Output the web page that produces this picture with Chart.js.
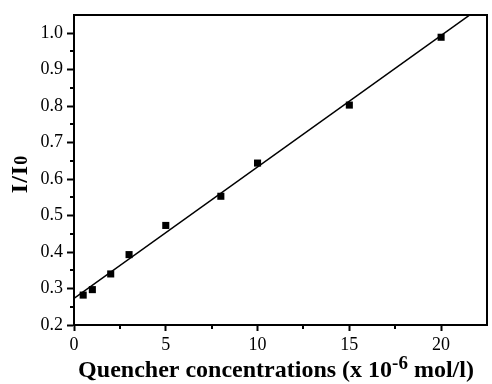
<!DOCTYPE html>
<html>
<head>
<meta charset="utf-8">
<script src="https://cdn.jsdelivr.net/npm/chart.js@4"></script>
<style>
  body { margin: 0; background: #fff; }
  #wrap { width: 492px; height: 384px; }
</style>
</head>
<body>
<div id="wrap"><canvas id="quenchChart" width="492" height="384"></canvas></div>
<script>
// DATA
const concX = [0.5, 1, 2, 3, 5, 8, 10, 15, 20];
const ratioY = [0.282, 0.297, 0.340, 0.393, 0.473, 0.553, 0.644, 0.803, 0.989];

// fitted line at both ends
const fitX = [0, 22.5];
const fitY = [0.273, 1.084];

const xTicks = [0, 5, 10, 15, 20];
const xMinor = [2.5, 7.5, 12.5, 17.5];
const yTicks = [0.2, 0.3, 0.4, 0.5, 0.6, 0.7, 0.8, 0.9, 1.0];
const yMinor = [0.25, 0.35, 0.45, 0.55, 0.65, 0.75, 0.85, 0.95];

const FONT = "'Liberation Serif', 'Times New Roman', serif";

// frame, minor ticks and axis titles
const decorPlugin = {
  id: "decor",
  afterDraw(chart) {
    const ctx = chart.ctx;
    const a = chart.chartArea;
    const xs = chart.scales.x, ys = chart.scales.y;

    ctx.save();
    ctx.strokeStyle = "#000";
    ctx.lineWidth = 2;
    ctx.strokeRect(a.left, a.top, a.right - a.left, a.bottom - a.top);

    ctx.beginPath();
    yMinor.forEach(v => {
      const py = Math.round(ys.getPixelForValue(v));
      ctx.moveTo(a.left - 4, py);
      ctx.lineTo(a.left, py);
    });
    xMinor.forEach(v => {
      const px = Math.round(xs.getPixelForValue(v));
      ctx.moveTo(px, a.bottom);
      ctx.lineTo(px, a.bottom + 4);
    });
    ctx.stroke();

    ctx.fillStyle = "#000";
    ctx.textBaseline = "alphabetic";

    // x title with superscript
    const big = "bold 24px " + FONT, small = "bold 19px " + FONT;
    const p1 = "Quencher concentrations (x 10", p2 = "-6", p3 = " mol/l)";
    ctx.font = big;
    const w1 = ctx.measureText(p1).width, w3 = ctx.measureText(p3).width;
    ctx.font = small;
    const w2 = ctx.measureText(p2).width;
    let x = 276 - (w1 + w2 + w3) / 2;
    const base = 377;
    ctx.textAlign = "left";
    ctx.font = big; ctx.fillText(p1, x, base); x += w1;
    ctx.font = small; ctx.fillText(p2, x, base - 8); x += w2;
    ctx.font = big; ctx.fillText(p3, x, base);

    // y title
    ctx.translate(27, 174);
    ctx.rotate(-Math.PI / 2);
    ctx.letterSpacing = "1px";
    const q1 = "I/I", q2 = "0";
    ctx.font = "bold 24px " + FONT;
    const v1 = ctx.measureText(q1).width;
    ctx.font = "bold 18px " + FONT;
    const v2 = ctx.measureText(q2).width;
    let t = -(v1 + v2) / 2;
    ctx.font = "bold 24px " + FONT; ctx.fillText(q1, t, 0); t += v1;
    ctx.font = "bold 18px " + FONT; ctx.fillText(q2, t, 0);
    ctx.restore();
  }
};

new Chart(document.getElementById("quenchChart"), {
  type: "scatter",
  data: {
    datasets: [
      {
        label: "I/I0",
        data: concX.map((c, i) => ({ x: c, y: ratioY[i] })),
        pointStyle: "rect",
        pointRadius: 5,
        backgroundColor: "#000",
        borderColor: "#000",
        borderWidth: 0
      },
      {
        label: "fit",
        type: "line",
        data: fitX.map((c, i) => ({ x: c, y: fitY[i] })),
        borderColor: "#000",
        borderWidth: 1.5,
        pointRadius: 0,
        fill: false
      }
    ]
  },
  options: {
    responsive: false,
    animation: false,
    layout: { padding: { top: 15, right: 2, left: 0, bottom: 0 } },
    plugins: {
      legend: { display: false },
      tooltip: { enabled: false }
    },
    scales: {
      x: {
        type: "linear",
        min: 0,
        max: 22.5,
        afterFit(s) { s.height = 59; },
        afterBuildTicks(s) { s.ticks = xTicks.map(v => ({ value: v })); },
        border: { color: "#000", width: 2 },
        grid: { drawOnChartArea: false, drawTicks: true, tickLength: 6, tickColor: "#000", tickWidth: 2 },
        ticks: {
          color: "#000",
          padding: 3,
          font: { family: FONT, size: 18 },
          callback: v => String(v)
        }
      },
      y: {
        type: "linear",
        min: 0.2,
        max: 1.05,
        afterFit(s) { s.width = 74; },
        afterBuildTicks(s) { s.ticks = yTicks.map(v => ({ value: v })); },
        border: { color: "#000", width: 2 },
        grid: { drawOnChartArea: false, drawTicks: true, tickLength: 7, tickColor: "#000", tickWidth: 2 },
        ticks: {
          color: "#000",
          padding: 4,
          font: { family: FONT, size: 18 },
          callback: v => Number(v).toFixed(1)
        }
      }
    }
  },
  plugins: [decorPlugin]
});
</script>
</body>
</html>
